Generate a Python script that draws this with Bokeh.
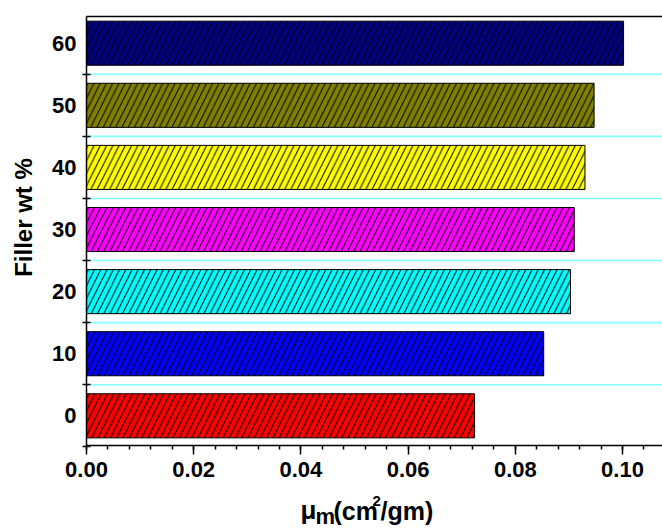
import math
from bokeh.plotting import figure
from bokeh.models import FixedTicker, Range1d, ColumnDataSource, LinearAxis
from bokeh.core.properties import value
from bokeh.embed import file_html
from bokeh.resources import INLINE

categories = ["0", "10", "20", "30", "40", "50", "60"]
mu_m = [0.0724, 0.0853, 0.0903, 0.0910, 0.0930, 0.0947, 0.1002]
colors = ["#FF0000", "#0000FF", "#00FFFF", "#FF00FF", "#FFFF00", "#808000", "#000080"]
x_ticks = [0.0, 0.02, 0.04, 0.06, 0.08, 0.10]
y_title = "Filler wt %"
x_title_parts = ["\u03bc", "m", "(cm", "2", "/gm)"]

FONT = "Liberation Sans"
W, H = 662, 528

# layout geometry (pixels)
AX_LEFT, AX_BOTTOM, AX_TOP = 86, 445, 16
PX_PER_X = 5360.0      # pixels per unit of mu_m
PX_PER_Y = 62.1        # pixels per category step
Y_AT_BOTTOM = -0.478   # category coordinate at the bottom axis

x_start = -AX_LEFT / PX_PER_X
x_end = (W - AX_LEFT) / PX_PER_X
y_end = Y_AT_BOTTOM + AX_BOTTOM / PX_PER_Y
y_start = y_end - H / PX_PER_Y
y_top_axis = y_end - AX_TOP / PX_PER_Y


def px2x(px):
    return x_start + px / PX_PER_X


def px2y(py):
    return y_end - py / PX_PER_Y


idx = list(range(len(categories)))
src = ColumnDataSource(dict(y=idx, right=mu_m, color=colors))

p = figure(width=W, height=H, output_backend="svg", toolbar_location=None,
           x_range=Range1d(x_start, x_end), y_range=Range1d(y_start, y_end),
           min_border=0, min_border_left=0, min_border_right=0,
           min_border_top=0, min_border_bottom=0)
p.outline_line_color = None
p.grid.visible = False

# light cyan separators between categories
bounds_y = [i + 0.5 for i in range(len(categories) - 1)]
p.segment(x0=[0] * len(bounds_y), x1=[x_end] * len(bounds_y), y0=bounds_y, y1=bounds_y,
          line_color="#80FFFF", line_width=1.6)

p.hbar(y="y", left=0, right="right", height=0.71, source=src,
       fill_color="color", line_color="black", line_width=1,
       hatch_pattern="/", hatch_color="black", hatch_scale=12.5, hatch_weight=1)

# y axis
ya = p.yaxis[0]
ya.fixed_location = 0
ya.bounds = (-0.5, y_top_axis)
ya.ticker = FixedTicker(ticks=idx, minor_ticks=[i + 0.5 for i in range(-1, len(categories) - 1)])
ya.major_label_overrides = {i: c for i, c in enumerate(categories)}
ya.major_tick_in = 0
ya.major_tick_out = 0
ya.minor_tick_in = 4
ya.minor_tick_out = 4
ya.minor_tick_line_width = 1.5
ya.axis_line_width = 1.5
ya.major_label_standoff = 6
ya.major_label_text_font = FONT
ya.major_label_text_font_style = "bold"
ya.major_label_text_font_size = "22px"
ya.major_label_text_color = "black"

# x axis
xa = p.xaxis[0]
xa.fixed_location = Y_AT_BOTTOM
xa.bounds = (0, x_end)
xa.ticker = FixedTicker(ticks=x_ticks, minor_ticks=[i * 0.004 for i in range(27)])
xa.major_label_overrides = {t: f"{t:.2f}" for t in x_ticks}
xa.major_tick_in = 0
xa.major_tick_out = 9
xa.minor_tick_in = 0
xa.minor_tick_out = 4
xa.major_tick_line_width = 1.5
xa.minor_tick_line_width = 1.5
xa.axis_line_width = 1.5
xa.major_label_standoff = 7
xa.major_label_text_font = FONT
xa.major_label_text_font_style = "bold"
xa.major_label_text_font_size = "22px"
xa.major_label_text_color = "black"

# top frame line
top = LinearAxis(fixed_location=y_top_axis, bounds=(0, x_end), ticker=FixedTicker(ticks=[]),
                 major_tick_in=0, major_tick_out=0, minor_tick_in=0, minor_tick_out=0,
                 major_label_text_font_size="0px", axis_line_width=1.5, axis_line_color="black")
p.add_layout(top, "above")

# y-axis title
p.text(x=[px2x(23)], y=[px2y(217)], text=[y_title], angle=math.pi / 2,
       text_font=value(FONT), text_font_style="bold", text_font_size="24px",
       text_align="center", text_baseline="middle", text_color="black")

# x-axis title pieces (mu subscript m, cm superscript 2); y = vertical middle of each piece
xs = [300, 315, 333, 372, 380]
ys = [509, 516, 510, 500, 510]
sizes = ["26px", "22px", "25px", "15px", "25px"]
for tx, xx, yy, sz in zip(x_title_parts, xs, ys, sizes):
    p.text(x=[px2x(xx)], y=[px2y(yy)], text=[tx], text_font=value(FONT), text_font_style="bold",
           text_font_size=sz, text_baseline="middle", text_align="left", text_color="black")

open("out.html", "w").write(file_html(p, INLINE))
